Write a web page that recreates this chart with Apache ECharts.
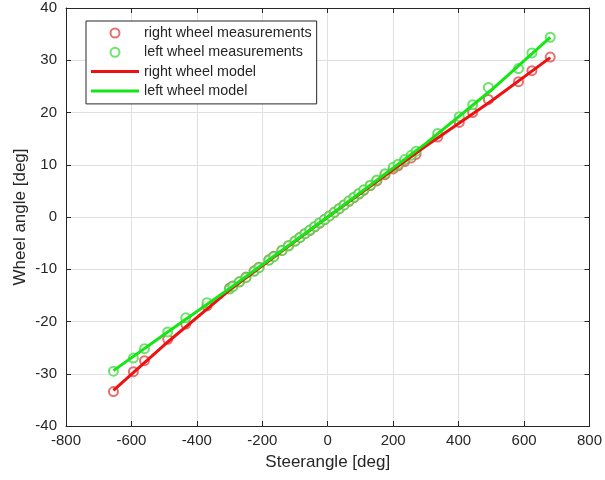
<!DOCTYPE html>
<html>
<head>
<meta charset="utf-8">
<script src="https://cdn.jsdelivr.net/npm/echarts@6/dist/echarts.min.js"></script>
<style>
  html, body { margin: 0; padding: 0; background: #fff; }
  #chart { width: 605px; height: 480px; }
</style>
</head>
<body>
<div id="chart"></div>
<script>
// steering angle of each measurement [deg]
const measSteer = [-655, -594, -560, -489, -434, -369, -300, -290, -270, -250, -225, -210, -180, -165,
  -140, -120, -100, -85, -70, -55, -40, -25, -10, 5, 20, 35, 50, 65, 80, 95, 110, 130, 150, 175,
  200, 215, 235, 255, 270, 336, 402, 443, 491, 583, 624, 680]
const rightMeas = [-33.4, -29.6, -27.5, -23.4, -20.5, -17.0, -13.6, -13.2, -12.4, -11.5, -10.3, -9.6, -8.2, -7.5,
  -6.4, -5.5, -4.6, -3.9, -3.2, -2.6, -1.9, -1.2, -0.5, 0.2, 0.9, 1.6, 2.3, 3.0, 3.7, 4.4, 5.1, 6.0, 6.9, 8.1,
  9.2, 9.8, 10.6, 11.3, 12.0, 15.3, 18.1, 20.0, 22.5, 25.9, 28.0, 30.6]
const leftMeas = [-29.5, -27.0, -25.2, -22.0, -19.3, -16.4, -13.8, -13.3, -12.4, -11.6, -10.4, -9.7, -8.3, -7.6,
  -6.4, -5.5, -4.6, -3.9, -3.2, -2.5, -1.8, -1.1, -0.5, 0.2, 0.9, 1.6, 2.3, 3.1, 3.8, 4.5, 5.2, 6.1, 7.1, 8.3,
  9.5, 10.1, 11.0, 11.8, 12.6, 16.0, 19.2, 21.5, 24.8, 28.4, 31.4, 34.4]

// model curves
const modelSteer = [-655, -500, -300, 0, 300, 500, 680]
const rightModel = [-33.2, -24.5, -14.0, 0, 13.6, 22.2, 30.5]
const leftModel = [-29.4, -22.5, -13.7, 0, 14.1, 24.3, 34.4]

const xTicks = [-800, -600, -400, -200, 0, 200, 400, 600, 800]
const yTicks = [-40, -30, -20, -10, 0, 10, 20, 30, 40]

const pairs = (xs, ys) => xs.map((x, i) => [x, ys[i]])

const chart = echarts.init(document.getElementById('chart'))

const textColor = '#262626'
const boxColor = '#262626'
const lineIcon = 'path://M0,0 H48 V3 H0 Z'

const xBase = {
  type: 'value',
  min: xTicks[0],
  max: xTicks[xTicks.length - 1],
  interval: xTicks[1] - xTicks[0],
  axisLine: { onZero: false, lineStyle: { color: boxColor, width: 1 } },
  axisTick: { inside: true, length: 5, lineStyle: { color: boxColor } }
}
const yBase = {
  type: 'value',
  min: yTicks[0],
  max: yTicks[yTicks.length - 1],
  interval: yTicks[1] - yTicks[0],
  axisLine: { onZero: false, lineStyle: { color: boxColor, width: 1 } },
  axisTick: { inside: true, length: 5, lineStyle: { color: boxColor } }
}

const option = {
  backgroundColor: '#fff',
  animation: false,
  textStyle: { fontFamily: 'Liberation Sans, Arial, sans-serif' },
  grid: { left: 66, right: 14, top: 8, bottom: 54, containLabel: false },
  legend: {
    orient: 'vertical',
    left: 86,
    top: 21,
    padding: [4, 5, 5, 5],
    itemWidth: 48,
    itemHeight: 9,
    itemGap: 3.3,
    backgroundColor: '#fff',
    borderColor: '#262626',
    borderWidth: 1,
    borderRadius: 0,
    textStyle: { color: textColor, fontSize: 14.3, lineHeight: 16 },
    data: [
      { name: 'right wheel measurements' },
      { name: 'left wheel measurements' },
      { name: 'right wheel model', icon: lineIcon },
      { name: 'left wheel model', icon: lineIcon }
    ]
  },
  xAxis: [
    Object.assign({}, xBase, {
      position: 'bottom',
      name: 'Steerangle [deg]',
      nameLocation: 'middle',
      nameGap: 28,
      nameMoveOverlap: false,
      nameTextStyle: { color: textColor, fontSize: 17 },
      axisLabel: { color: textColor, fontSize: 15, margin: 7 },
      splitLine: { show: true, lineStyle: { color: '#e0e0e0' } }
    }),
    Object.assign({}, xBase, {
      position: 'top',
      axisLabel: { show: false },
      splitLine: { show: false }
    })
  ],
  yAxis: [
    Object.assign({}, yBase, {
      position: 'left',
      name: 'Wheel angle [deg]',
      nameLocation: 'middle',
      nameGap: 37,
      nameMoveOverlap: false,
      nameTextStyle: { color: textColor, fontSize: 17 },
      axisLabel: { color: textColor, fontSize: 15, margin: 9 },
      splitLine: { show: true, lineStyle: { color: '#e0e0e0' } }
    }),
    Object.assign({}, yBase, {
      position: 'right',
      axisLabel: { show: false },
      splitLine: { show: false }
    })
  ],
  series: [
    {
      name: 'right wheel measurements',
      type: 'scatter',
      symbol: 'emptyCircle',
      symbolSize: 9,
      itemStyle: { color: '#e24b4b', borderColor: '#e24b4b', borderWidth: 1 },
      data: pairs(measSteer, rightMeas)
    },
    {
      name: 'left wheel measurements',
      type: 'scatter',
      symbol: 'emptyCircle',
      symbolSize: 9,
      itemStyle: { color: '#47dc47', borderColor: '#47dc47', borderWidth: 1 },
      data: pairs(measSteer, leftMeas)
    },
    {
      name: 'right wheel model',
      type: 'line',
      symbol: 'none',
      lineStyle: { color: '#ee1111', width: 3 },
      itemStyle: { color: '#ee1111' },
      data: pairs(modelSteer, rightModel)
    },
    {
      name: 'left wheel model',
      type: 'line',
      symbol: 'none',
      lineStyle: { color: '#16e616', width: 3 },
      itemStyle: { color: '#16e616' },
      data: pairs(modelSteer, leftModel)
    }
  ]
}

chart.setOption(option)
window.addEventListener('resize', () => chart.resize())
</script>
</body>
</html>
